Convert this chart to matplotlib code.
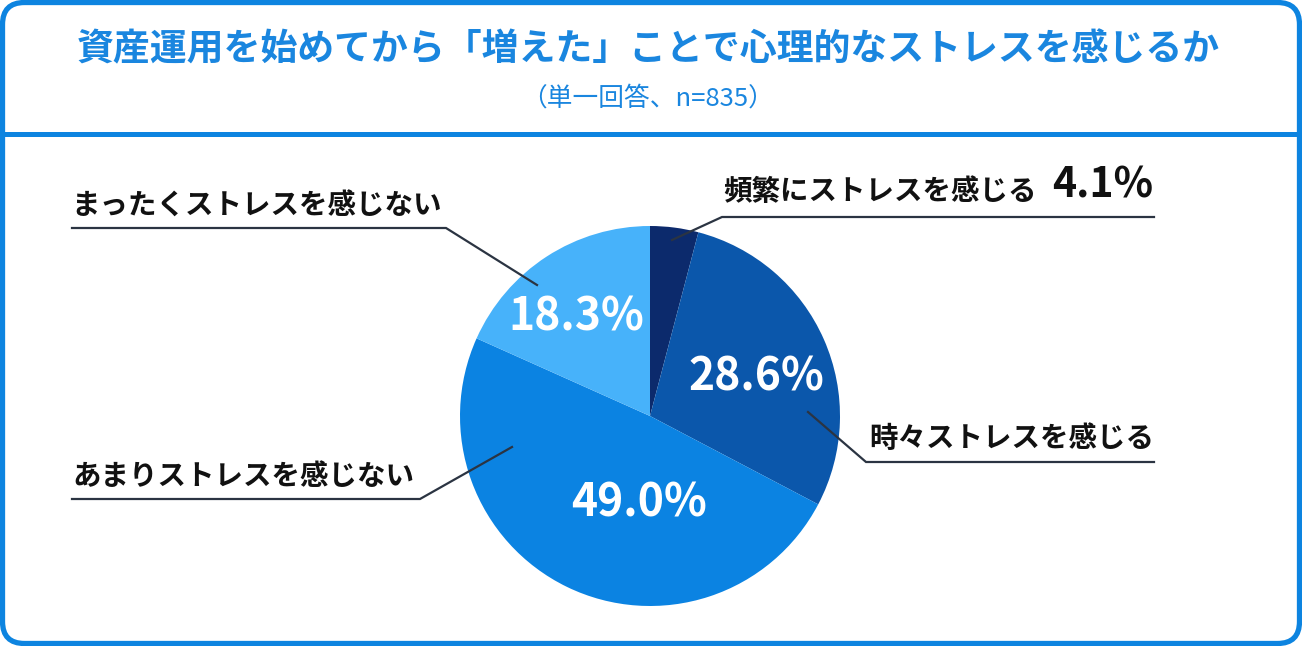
import matplotlib
matplotlib.use("Agg")
import matplotlib.pyplot as plt
from matplotlib.patches import FancyBboxPatch

plt.rcParams["font.family"] = ["Noto Sans CJK JP", "DejaVu Sans"]

# ---- data ----
TITLE = "資産運用を始めてから「増えた」ことで心理的なストレスを感じるか"
SUBTITLE = "（単一回答、n=835）"
CATEGORIES = ["頻繁にストレスを感じる", "時々ストレスを感じる", "あまりストレスを感じない", "まったくストレスを感じない"]
VALUES = [4.1, 28.6, 49.0, 18.3]
COLORS = ["#0c2a6c", "#0b57ab", "#0b83e2", "#47b2fa"]

W, H, DPI = 1302, 646, 100
BLUE = "#0d84e0"
INK = "#111111"
LINE = "#2b3442"

# pie geometry in pixels
CX, CY, R = 650, 416, 190

# percentage label offsets (relative to pie radius), None -> drawn outside
PCT_POS = [None, (0.56, 0.20), (-0.06, -0.46), (-0.39, 0.52)]

# outside labels: text xy (px), underline x-range and y, leader end point on pie
LABELS = [
    dict(tx=723, ty=192, ux=(722, 1154), uy=217, tip=(672, 240)),
    dict(tx=869, ty=439, ux=(866, 1154), uy=462, tip=(808, 412)),
    dict(tx=72, ty=477, ux=(72, 420), uy=499, tip=(512, 447)),
    dict(tx=71, ty=207, ux=(72, 446), uy=228, tip=(537, 285)),
]

fig = plt.figure(figsize=(W / DPI, H / DPI), dpi=DPI, facecolor="white")

# pie in its own square axes (drawn first, below the overlay)
pax = fig.add_axes([(CX - R) / W, (H - CY - R) / H, 2 * R / W, 2 * R / H])
pax.pie(VALUES, colors=COLORS, startangle=90, counterclock=False,
        radius=1, wedgeprops=dict(linewidth=0))
pax.set_xlim(-1, 1)
pax.set_ylim(-1, 1)
pax.set_aspect("equal")
pax.axis("off")

for v, pos in zip(VALUES, PCT_POS):
    if pos is None:
        continue
    pax.text(pos[0], pos[1], "%.1f%%" % v, color="white", fontsize=32,
             fontweight="bold", ha="center", va="center")

# transparent overlay in pixel coordinates
ax = fig.add_axes([0, 0, 1, 1])
ax.set_xlim(0, W)
ax.set_ylim(H, 0)
ax.axis("off")
ax.patch.set_visible(False)

# frame + header separator
ax.add_patch(FancyBboxPatch((2.5, 2.5), W - 5, H - 5,
                            boxstyle="round,pad=0,rounding_size=22",
                            fc="none", ec=BLUE, lw=3.8, zorder=0))
ax.plot([0, W], [133.5, 133.5], color=BLUE, lw=3.6, solid_capstyle="butt", zorder=1)

ax.text(648, 50, TITLE, color="#1a86df", fontsize=26.6, fontweight="bold",
        ha="center", va="center")
ax.text(648, 99, SUBTITLE, color="#1a86df", fontsize=18.5,
        ha="center", va="center")

# outside labels with leader lines
for i, (cat, lab) in enumerate(zip(CATEGORIES, LABELS)):
    ax.text(lab["tx"], lab["ty"], cat, color=INK, fontsize=20.5,
            fontweight="bold", ha="left", va="center")
    if PCT_POS[i] is None:
        ax.text(1052, 186, "%.1f%%" % VALUES[i], color=INK, fontsize=29.5,
                fontweight="bold", ha="left", va="center")
    x0, x1 = lab["ux"]
    # underline joined to a diagonal leader toward the slice
    if lab["tip"][0] > x1:
        xs, ys = [x0, x1, lab["tip"][0]], [lab["uy"], lab["uy"], lab["tip"][1]]
    else:
        xs, ys = [x1, x0, lab["tip"][0]], [lab["uy"], lab["uy"], lab["tip"][1]]
    ax.plot(xs, ys, color=LINE, lw=1.6, solid_joinstyle="miter", zorder=3)

fig.savefig("out.png", dpi=DPI, facecolor="white")
